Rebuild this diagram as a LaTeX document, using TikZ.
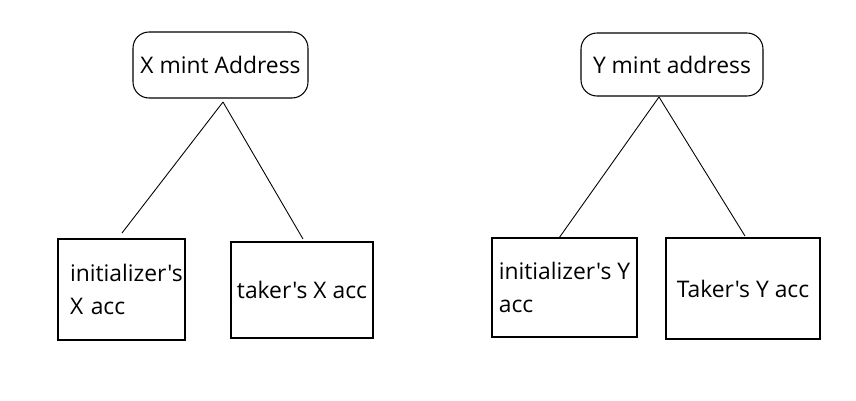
\documentclass[tikz,border=0pt]{standalone}
\usepackage{fontspec}
\setmainfont{Open Sans}[Ligatures=TeXOff]
\usetikzlibrary{positioning}

\begin{document}
\begin{tikzpicture}[x=0.02cm,y=-0.02cm, line width=0.6pt,
    mint/.style={draw, rounded corners=0.32cm, inner sep=0pt, font=\fontsize{13}{18}\selectfont},
    acc/.style={draw, inner sep=0pt, align=left, font=\fontsize{13}{18.7}\selectfont}]
  \useasboundingbox (0,0) rectangle (856,400);
  % mint addresses
  \node[mint, minimum width=3.5cm, minimum height=1.32cm] (xmint) at (220.5,65) {X mint Address};
  \node[mint, minimum width=3.64cm, minimum height=1.26cm] (ymint) at (672,64.5) {Y mint address};
  % token accounts
  \node[acc, minimum height=2.02cm, text width=2.06cm, inner xsep=0.24cm] (xinit) at (121.5,289.5) {initializer's\\X acc};
  \node[acc, align=center, minimum width=2.84cm, minimum height=1.92cm] (xtaker) at (302,290) {taker's X acc};
  \node[acc, minimum width=2.9cm, minimum height=1.98cm] (yinit) at (564.5,287.5) {initializer's Y\\acc};
  \node[acc, align=center, minimum width=3.08cm, minimum height=2.02cm] (ytaker) at (743,288.5) {Taker's Y acc};
  % branches
  \coordinate (xtop) at (223,102);
  \coordinate (xl) at (122,233);
  \coordinate (xr) at (303,239);
  \coordinate (ytop) at (659,97);
  \coordinate (yl) at (559,238);
  \coordinate (yr) at (745,236);
  \foreach \from/\to in {xtop/xl, xtop/xr, ytop/yl, ytop/yr}
    \draw[line width=0.5pt] (\from) -- (\to);
\end{tikzpicture}
\end{document}
